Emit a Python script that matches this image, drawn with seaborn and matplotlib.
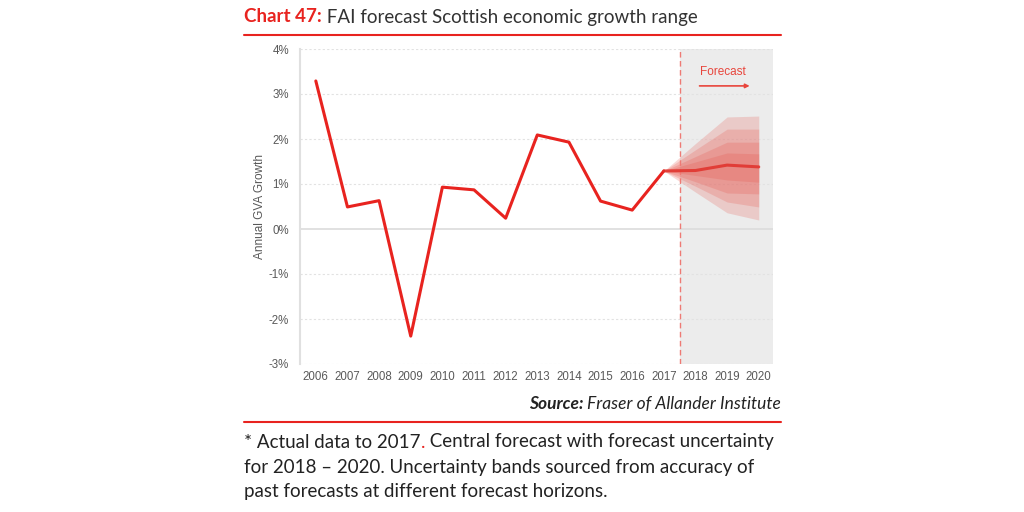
import matplotlib
matplotlib.use("Agg")
import matplotlib.pyplot as plt
import seaborn as sns
import pandas as pd
import numpy as np

# ---- data ----
years_actual = [2006, 2007, 2008, 2009, 2010, 2011, 2012, 2013, 2014, 2015, 2016, 2017]
growth_actual = [3.29, 0.49, 0.63, -2.38, 0.93, 0.87, 0.24, 2.09, 1.93, 0.62, 0.42, 1.29]

years_forecast = [2017, 2018, 2019, 2020]
growth_central = [1.29, 1.30, 1.42, 1.38]

band1_upper = [1.29, 1.90, 2.49, 2.51]
band1_lower = [1.29, 0.82, 0.36, 0.20]
band2_upper = [1.29, 1.76, 2.22, 2.22]
band2_lower = [1.29, 0.95, 0.60, 0.49]
band3_upper = [1.29, 1.61, 1.93, 1.93]
band3_lower = [1.29, 1.05, 0.80, 0.78]
band4_upper = [1.29, 1.49, 1.69, 1.67]
band4_lower = [1.29, 1.19, 1.09, 1.04]

x_ticks = list(range(2006, 2021))
y_ticks = [-3, -2, -1, 0, 1, 2, 3, 4]
y_tick_labels = ["-3%", "-2%", "-1%", "0%", "1%", "2%", "3%", "4%"]

RED = "#e8231f"
GREY_TXT = "#595959"
TXT_FAM = ["Lato", "DejaVu Sans"]

sns.set_theme(style="white")
plt.rcParams["font.family"] = ["Liberation Sans", "DejaVu Sans"]

fig = plt.figure(figsize=(10.24, 5.12), dpi=100)
ax = fig.add_axes([300/1024, 1-364/512, 473/1024, 315/512])

# forecast shading
ax.axvspan(2017.5, 2020.45, color="#ececec", zorder=0, lw=0)

# grid
for y in y_ticks:
    if y == 0:
        ax.axhline(0, color="#dcdcdc", lw=1.2, zorder=1)
    else:
        ax.axhline(y, color="#e2e2e2", lw=0.8, ls=(0, (2, 2)), zorder=1)

# bands
bands = [(band1_lower, band1_upper), (band2_lower, band2_upper),
         (band3_lower, band3_upper), (band4_lower, band4_upper)]
for lo, hi in bands:
    ax.fill_between(years_forecast, lo, hi, color="#e5443b", alpha=0.2, lw=0, zorder=2)

df_a = pd.DataFrame({"year": years_actual, "growth": growth_actual})
df_f = pd.DataFrame({"year": years_forecast, "growth": growth_central})
sns.lineplot(data=df_a, x="year", y="growth", color=RED, lw=2.2, ax=ax, zorder=4)
sns.lineplot(data=df_f, x="year", y="growth", color="#e0302a", lw=2.2, alpha=0.85, ax=ax, zorder=4)

ax.axvline(2017.5, color="#ee7a74", lw=1.0, ls=(0, (4, 2.5)), zorder=3)

ax.text(2018.86, 3.49, "Forecast", color="#e8453c", fontsize=8.5, ha="center", va="center")
ax.annotate("", xy=(2019.8, 3.18), xytext=(2018.04, 3.18),
            arrowprops=dict(arrowstyle="-|>", color="#e8453c", lw=1.2, mutation_scale=6))

ax.set_xlim(2005.5, 2020.45)
ax.set_ylim(-3, 4)
ax.set_xticks(x_ticks)
ax.set_xticklabels([str(x) for x in x_ticks])
ax.set_yticks(y_ticks)
ax.set_yticklabels(y_tick_labels)
ax.tick_params(axis="both", length=0, labelsize=8.3, colors=GREY_TXT, pad=5)
ax.tick_params(axis="y", pad=8)
ax.set_xlabel("")
ax.set_ylabel("Annual GVA Growth", fontsize=8.5, color=GREY_TXT, labelpad=2)
for s in ["top", "right", "bottom"]:
    ax.spines[s].set_visible(False)
ax.spines["left"].set_color("#e0e0e0")
ax.spines["left"].set_linewidth(1.5)
ax.grid(False)

# title
TS = 13.5
t1 = fig.text(244/1024, 1-17/512, "Chart 47:", color=RED, fontsize=TS, fontweight="bold",
              family=TXT_FAM, va="center", ha="left")
ax.annotate(" FAI forecast Scottish economic growth range", xy=(1, 0.5), xycoords=t1,
            va="center", ha="left", fontsize=TS, color="#333333",
            family=TXT_FAM, annotation_clip=False)

fig.add_artist(plt.Line2D([244/1024, 781/1024], [1-35/512, 1-35/512], color=RED, lw=1.5))
fig.add_artist(plt.Line2D([244/1024, 781/1024], [1-422/512, 1-422/512], color=RED, lw=1.5))

# source
t2 = fig.text(781/1024, 1-404/512, "Fraser of Allander Institute", ha="right", va="center",
              fontsize=12.5, style="italic", color="#222222", family=TXT_FAM)
ax.annotate("Source: ", xy=(0, 0.5), xycoords=t2, ha="right", va="center",
            fontsize=12.5, style="italic", fontweight="bold", color="#222222",
            family=TXT_FAM, annotation_clip=False)

# footnote
FN = 13.5
t3 = fig.text(244/1024, 1-442/512, "* Actual data to 2017", ha="left", va="center",
              fontsize=FN, color="#222222", family=TXT_FAM)
t_dot = ax.annotate(".", xy=(1, 0.5), xycoords=t3, ha="left", va="center", fontsize=FN,
                    color=RED, family=TXT_FAM, annotation_clip=False)
ax.annotate(" Central forecast with forecast uncertainty", xy=(1, 0.5), xycoords=t_dot,
            ha="left", va="center", fontsize=FN, color="#222222",
            family=TXT_FAM, annotation_clip=False)
fig.text(244/1024, 1-467/512, "for 2018 \u2013 2020. Uncertainty bands sourced from accuracy of",
         ha="left", va="center", fontsize=FN, color="#222222", family=TXT_FAM)
fig.text(244/1024, 1-491/512, "past forecasts at different forecast horizons.",
         ha="left", va="center", fontsize=FN, color="#222222", family=TXT_FAM)

fig.savefig("out.png", dpi=100)
